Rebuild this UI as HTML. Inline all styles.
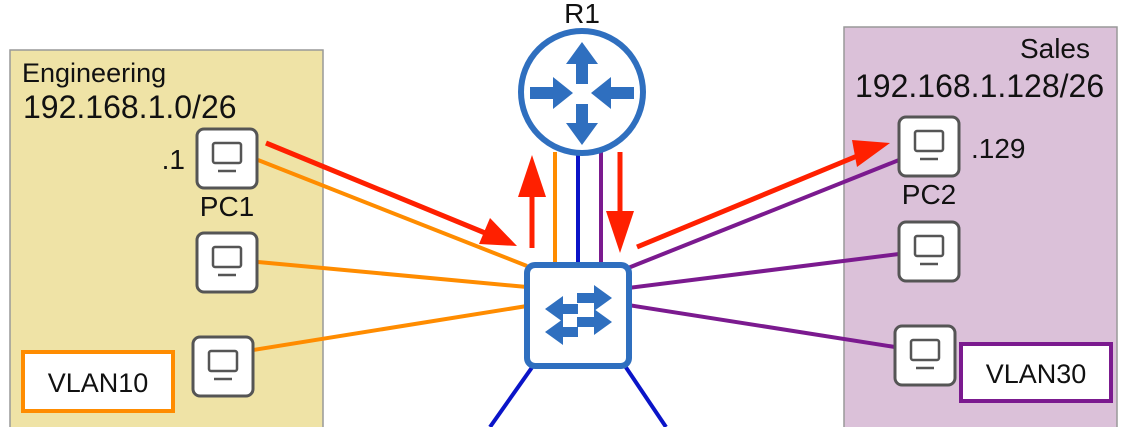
<!DOCTYPE html>
<html><head><meta charset="utf-8"><style>
html,body{margin:0;padding:0;background:#fff;}
svg{display:block;font-family:"Liberation Sans",sans-serif;}
</style></head><body>
<svg width="1125" height="427" viewBox="0 0 1125 427">
<defs>
<g id="pc">
<rect x="0" y="0" width="60" height="59" rx="7" fill="#fff" stroke="#555" stroke-width="3"/>
<rect x="16" y="14" width="28" height="20" rx="2" fill="none" stroke="#555" stroke-width="2.5"/>
<line x1="21" y1="42" x2="39" y2="42" stroke="#555" stroke-width="2.5"/>
</g>
</defs>
<rect x="10" y="50" width="313" height="390" fill="#efe3a6" stroke="#999" stroke-width="1.5"/>
<rect x="844" y="27" width="273" height="410" fill="#dbc1d9" stroke="#999" stroke-width="1.5"/>
<text x="22" y="82" font-size="27" fill="#111">Engineering</text>
<text x="23" y="118" font-size="32" fill="#111">192.168.1.0/26</text>
<text x="1090" y="58" font-size="28" fill="#111" text-anchor="end">Sales</text>
<text x="855" y="97" font-size="32" fill="#111">192.168.1.128/26</text>
<text x="582" y="23" font-size="28" fill="#111" text-anchor="middle">R1</text>

<g stroke-width="4" fill="none">
<line x1="258" y1="160" x2="527" y2="266" stroke="#ff8c00"/>
<line x1="258" y1="262" x2="527" y2="287" stroke="#ff8c00"/>
<line x1="253" y1="350" x2="527" y2="306" stroke="#ff8c00"/>
<line x1="628" y1="268" x2="899" y2="160" stroke="#7b1a8f"/>
<line x1="628" y1="288" x2="899" y2="254" stroke="#7b1a8f"/>
<line x1="628" y1="305" x2="895" y2="347" stroke="#7b1a8f"/>
<line x1="555" y1="152" x2="555" y2="265" stroke="#ff8c00"/>
<line x1="578" y1="152" x2="578" y2="265" stroke="#0a14c8"/>
<line x1="601" y1="152" x2="601" y2="265" stroke="#7b1a8f"/>
<line x1="533" y1="366" x2="490" y2="427" stroke="#0a14c8"/>
<line x1="625" y1="366" x2="666" y2="427" stroke="#0a14c8"/>
</g>

<g fill="#ff2000" stroke="#ff2000">
<line x1="266" y1="143" x2="490" y2="235" stroke-width="5"/>
<polygon points="517,246 479,244 490,218" stroke="none"/>
<line x1="532" y1="248" x2="532" y2="190" stroke-width="5"/>
<polygon points="532,155 518,197 546,197" stroke="none"/>
<line x1="620" y1="152" x2="620" y2="215" stroke-width="5"/>
<polygon points="620,253 606,211 634,211" stroke="none"/>
<line x1="637" y1="247" x2="862" y2="154" stroke-width="5"/>
<polygon points="890,143 857,167 852,140" stroke="none"/>
</g>

<g>
<circle cx="582" cy="92" r="61" fill="#fff" stroke="#2f6fbf" stroke-width="6"/>
<g fill="#2f6fbf">
<polygon points="582,42 566,64 576,64 576,84 588,84 588,64 598,64"/>
<polygon points="582,145 566,123 576,123 576,104 588,104 588,123 598,123"/>
<polygon points="573,93 553,77 553,87 530,87 530,99 553,99 553,109"/>
<polygon points="591,93 611,77 611,87 634,87 634,99 611,99 611,109"/>
</g>
</g>

<g>
<rect x="527" y="265" width="102" height="101" rx="8" fill="#fff" stroke="#2f6fbf" stroke-width="6"/>
<g fill="#2f6fbf">
<polygon points="612,298 594,285 594,293 577,293 577,303 594,303 594,311"/>
<polygon points="612,322 594,309 594,317 577,317 577,327 594,327 594,335"/>
<polygon points="545,309 563,296 563,304 578,304 578,314 563,314 563,322"/>
<polygon points="545,332 563,319 563,327 578,327 578,337 563,337 563,345"/>
</g>
</g>

<use href="#pc" x="197" y="129"/>
<use href="#pc" x="197" y="233"/>
<use href="#pc" x="193" y="337"/>
<use href="#pc" x="899" y="117"/>
<use href="#pc" x="899" y="222"/>
<use href="#pc" x="895" y="326"/>

<text x="185" y="169" font-size="28" fill="#111" text-anchor="end">.1</text>
<text x="227" y="216" font-size="28" fill="#111" text-anchor="middle">PC1</text>
<text x="971" y="158" font-size="28" fill="#111">.129</text>
<text x="929" y="204" font-size="28" fill="#111" text-anchor="middle">PC2</text>

<g>
<rect x="23" y="352" width="150" height="59" fill="#fff" stroke="#ff8c00" stroke-width="4"/>
<text x="98" y="392" font-size="27" fill="#111" text-anchor="middle">VLAN10</text>
</g>
<g>
<rect x="961" y="344" width="150" height="57" fill="#fff" stroke="#7b1a8f" stroke-width="4"/>
<text x="1036" y="383" font-size="27" fill="#111" text-anchor="middle">VLAN30</text>
</g>
</svg>
</body></html>
